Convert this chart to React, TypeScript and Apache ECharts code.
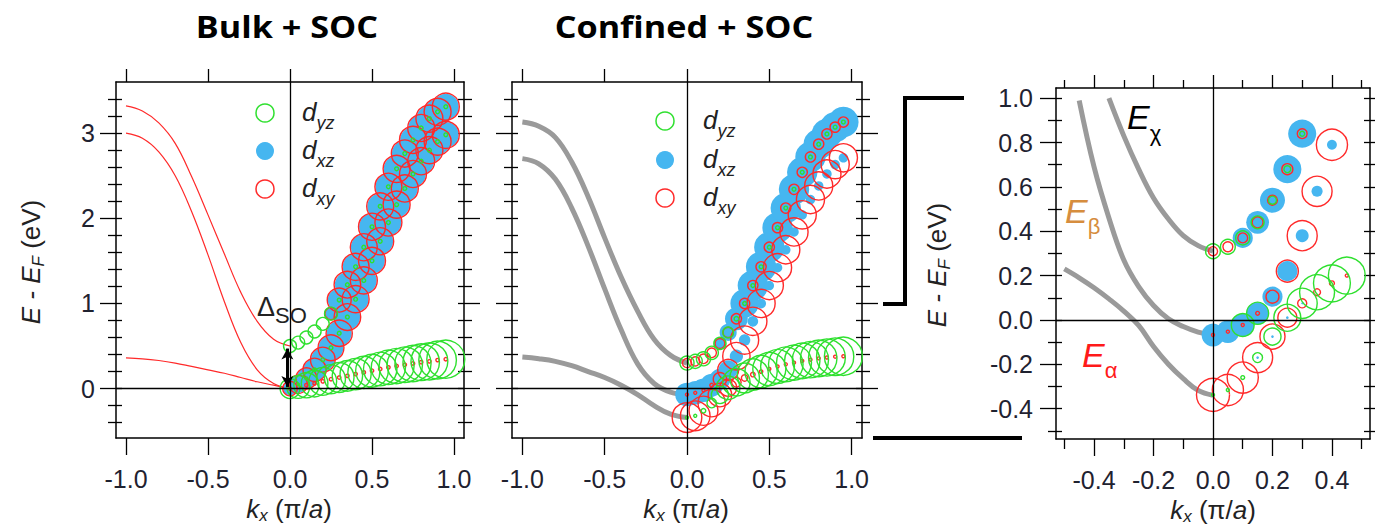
import React, { useEffect, useRef } from "react";
import * as echarts from "echarts";

// ---------------- data ----------------
// k grid for band markers (pi/a)
const kBulk = [0, 0.05, 0.1, 0.15, 0.2, 0.25, 0.3, 0.35, 0.4, 0.45, 0.5, 0.55, 0.6, 0.65, 0.7, 0.75, 0.8, 0.85, 0.9, 0.95];
const kConf = [0, 0.05, 0.1, 0.15, 0.2, 0.25, 0.3, 0.35, 0.4, 0.45, 0.5, 0.55, 0.6, 0.65, 0.7, 0.75, 0.8, 0.85, 0.9, 0.95];
const kZoom = [0, 0.05, 0.1, 0.15, 0.2, 0.25, 0.3, 0.35, 0.4, 0.45];
// k grid for the plain dispersion curves (left halves)
const kLine = [-1.0, -0.9, -0.8, -0.7, -0.6, -0.5, -0.4, -0.3, -0.2, -0.1, 0];

// ---- Bulk + SOC ----
const bulkUpperE = [0.5, 0.54, 0.6, 0.67, 0.76, 0.88, 1.04, 1.22, 1.43, 1.66, 1.9, 2.14, 2.37, 2.58, 2.76, 2.92, 3.06, 3.17, 3.25, 3.31];
const bulkUpperYz = [0.34, 0.34, 0.34, 0.34, 0.34, 0.34, 0.1, 0.1, 0.1, 0.1, 0.1, 0.1, 0.1, 0.1, 0.1, 0.1, 0.1, 0.1, 0.1, 0.1];
const bulkUpperXz = [0, 0, 0, 0, 0, 0.3, 0.6, 0.66, 0.68, 0.68, 0.68, 0.68, 0.68, 0.68, 0.68, 0.68, 0.68, 0.68, 0.68, 0.68];
const bulkUpperXy = [0, 0, 0, 0, 0, 0.32, 0.63, 0.7, 0.71, 0.71, 0.71, 0.71, 0.71, 0.71, 0.71, 0.71, 0.71, 0.71, 0.71, 0.71];

const bulkMidE = [0.0, 0.05, 0.12, 0.22, 0.34, 0.48, 0.65, 0.84, 1.05, 1.27, 1.5, 1.73, 1.95, 2.16, 2.35, 2.52, 2.67, 2.8, 2.9, 2.98];
const bulkMidYz = [0.06, 0.06, 0.08, 0.1, 0.1, 0.1, 0.1, 0.1, 0.1, 0.1, 0.1, 0.1, 0.1, 0.1, 0.1, 0.1, 0.1, 0.1, 0.1, 0.1];
const bulkMidXz = [0.35, 0.45, 0.52, 0.58, 0.62, 0.65, 0.66, 0.67, 0.68, 0.68, 0.68, 0.68, 0.68, 0.68, 0.68, 0.68, 0.68, 0.68, 0.68, 0.68];
const bulkMidXy = [0.38, 0.48, 0.55, 0.61, 0.65, 0.68, 0.69, 0.7, 0.71, 0.71, 0.71, 0.71, 0.71, 0.71, 0.71, 0.71, 0.71, 0.71, 0.71, 0.71];

const bulkLowE = [0.0, 0.02, 0.04, 0.06, 0.085, 0.11, 0.13, 0.15, 0.17, 0.19, 0.21, 0.23, 0.25, 0.265, 0.28, 0.295, 0.31, 0.32, 0.335, 0.345];
const bulkLowYz = [0.52, 0.6, 0.66, 0.7, 0.73, 0.76, 0.78, 0.8, 0.82, 0.84, 0.86, 0.88, 0.9, 0.92, 0.93, 0.95, 0.96, 0.97, 0.99, 1.0];
const bulkLowXy = [0.09, 0.09, 0.09, 0.09, 0.09, 0.09, 0.09, 0.09, 0.09, 0.09, 0.09, 0.09, 0.09, 0.09, 0.09, 0.09, 0.09, 0.09, 0.09, 0.09];

const bulkUpperLine = [3.32, 3.26, 3.12, 2.88, 2.49, 2.04, 1.58, 1.13, 0.79, 0.58, 0.5];
const bulkMidLine = [3.0, 2.94, 2.78, 2.5, 2.08, 1.57, 1.02, 0.54, 0.22, 0.06, 0.0];
const bulkLowLine = [0.36, 0.35, 0.33, 0.3, 0.26, 0.22, 0.18, 0.13, 0.08, 0.04, 0.0];

// ---- Confined + SOC ----
const confChiE = [0.3, 0.32, 0.35, 0.42, 0.53, 0.66, 0.82, 1.0, 1.21, 1.43, 1.66, 1.89, 2.12, 2.34, 2.54, 2.72, 2.87, 2.99, 3.07, 3.13];
const confChiYz = [0.37, 0.37, 0.37, 0.35, 0.32, 0.28, 0.12, 0.1, 0.1, 0.1, 0.1, 0.1, 0.1, 0.1, 0.1, 0.1, 0.1, 0.1, 0.1, 0.1];
const confChiXz = [0, 0, 0, 0, 0.3, 0.45, 0.6, 0.75, 0.8, 0.8, 0.8, 0.8, 0.8, 0.8, 0.8, 0.8, 0.8, 0.8, 0.8, 0.8];
const confChiXy = [0.24, 0.24, 0.25, 0.25, 0.26, 0.27, 0.27, 0.27, 0.27, 0.27, 0.27, 0.27, 0.27, 0.27, 0.27, 0.27, 0.27, 0.27, 0.27, 0.27];

const confBetaE = [-0.07, -0.05, -0.02, 0.04, 0.11, 0.22, 0.38, 0.57, 0.79, 1.0, 1.21, 1.42, 1.63, 1.84, 2.04, 2.22, 2.38, 2.52, 2.63, 2.71];
const confBetaXz = [0.62, 0.62, 0.62, 0.6, 0.55, 0.5, 0.35, 0.3, 0.28, 0.26, 0.25, 0.25, 0.25, 0.25, 0.25, 0.25, 0.25, 0.25, 0.25, 0.25];
const confBetaXy = [0.08, 0.08, 0.08, 0.1, 0.35, 0.55, 0.72, 0.74, 0.74, 0.74, 0.74, 0.74, 0.74, 0.74, 0.74, 0.74, 0.74, 0.74, 0.74, 0.74];

const confAlphaE = [-0.34, -0.32, -0.26, -0.17, -0.075, 0.01, 0.075, 0.125, 0.165, 0.2, 0.23, 0.26, 0.285, 0.305, 0.325, 0.34, 0.355, 0.365, 0.375, 0.38];
const confAlphaXy = [0.78, 0.78, 0.76, 0.72, 0.62, 0.45, 0.25, 0.17, 0.12, 0.09, 0.08, 0.08, 0.08, 0.08, 0.08, 0.08, 0.08, 0.08, 0.08, 0.08];
const confAlphaYz = [0.08, 0.08, 0.12, 0.25, 0.45, 0.62, 0.72, 0.78, 0.82, 0.85, 0.87, 0.89, 0.91, 0.92, 0.93, 0.95, 0.96, 0.97, 0.98, 1.0];

const confChiLine = [3.13, 3.08, 2.95, 2.66, 2.25, 1.77, 1.31, 0.91, 0.58, 0.39, 0.3];
const confBetaLine = [2.7, 2.64, 2.46, 2.12, 1.67, 1.17, 0.69, 0.29, 0.06, -0.04, -0.07];
const confAlphaLine = [0.37, 0.35, 0.32, 0.27, 0.2, 0.13, 0.04, -0.07, -0.2, -0.3, -0.34];

// ---- zoomed panel ----
const zoomChiE = [0.31, 0.33, 0.37, 0.44, 0.54, 0.68, 0.84];
const zoomChiYz = [0.39, 0.39, 0.37, 0.34, 0.21, 0.18, 0.13];
const zoomChiXz = [0, 0, 0.53, 0.6, 0.66, 0.74, 0.74];
const zoomChiXy = [0.24, 0.26, 0.26, 0.29, 0.26, 0.29, 0.26];

const zoomBetaE = [-0.068, -0.053, -0.023, 0.03, 0.105, 0.22, 0.38, 0.58, 0.79];
const zoomBetaXz = [0.6, 0.6, 0.6, 0.58, 0.53, 0.53, 0.34, 0.29, 0.26];
const zoomBetaXy = [0.08, 0.08, 0.08, 0.1, 0.34, 0.58, 0.79, 0.79, 0.82];
const zoomBetaYz = [0, 0, 0.6, 0.58, 0, 0, 0, 0, 0];

const zoomAlphaE = [-0.338, -0.316, -0.26, -0.17, -0.075, 0.01, 0.075, 0.125, 0.165, 0.2];
const zoomAlphaXy = [0.87, 0.82, 0.82, 0.79, 0.66, 0.5, 0.24, 0.18, 0.13, 0.08];
const zoomAlphaYz = [0.08, 0.08, 0.1, 0.26, 0.45, 0.71, 0.79, 0.92, 0.97, 0.97];
const zoomAlphaXz = [0, 0, 0, 0.07, 0.07, 0.07, 0.05, 0, 0, 0];

const zoomChiLineK = [-0.35, -0.3, -0.25, -0.2, -0.15, -0.1, -0.05, 0];
const zoomChiLine = [1.0, 0.83, 0.68, 0.55, 0.455, 0.38, 0.335, 0.31];
const zoomBetaLineK = [-0.45, -0.4, -0.35, -0.3, -0.25, -0.2, -0.15, -0.1, -0.05, 0];
const zoomBetaLine = [0.99, 0.69, 0.46, 0.27, 0.15, 0.065, 0.005, -0.03, -0.055, -0.068];
const zoomAlphaLineK = [-0.5, -0.45, -0.4, -0.35, -0.3, -0.25, -0.2, -0.15, -0.1, -0.05, 0];
const zoomAlphaLine = [0.23, 0.19, 0.145, 0.095, 0.04, -0.025, -0.12, -0.2, -0.265, -0.318, -0.34];

// spin-orbit gap arrow (bulk panel)
const deltaSO = { k: -0.016, from: 0.02, to: 0.47 };

// ticks
const kTicksWide = [-1.0, -0.5, 0, 0.5, 1.0];
const eMajorWide = [0, 1, 2, 3];
const eMinorWide = [-0.4, -0.2, 0.2, 0.4, 0.6, 0.8, 1.2, 1.4, 1.6, 1.8, 2.2, 2.4, 2.6, 2.8, 3.2, 3.4];
const kMajorZoom = [-0.4, -0.2, 0, 0.2, 0.4];
const kMinorZoom = [-0.5, -0.3, -0.1, 0.1, 0.3, 0.5];
const eMajorZoom = [-0.4, -0.2, 0, 0.2, 0.4, 0.6, 0.8, 1.0];
const eMinorZoom = [-0.5, -0.3, -0.1, 0.1, 0.3, 0.5, 0.7, 0.9];

// ---------------- styling ----------------
const FONT = '"Liberation Sans", Arial, sans-serif';
const GREEN = "#2fe02f";
const BLUE = "#46b6f0";
const RED = "#ff2a2a";
const GRAY = "#9a9a9a";
const LABEL = "#1f2230";
const S = 38; // marker diameter for weight 1

const f1 = (v: number) => v.toFixed(1);
const f0 = (v: number) => String(Math.round(v));

function xAxes(grid: number, min: number, max: number, major: number[], minor: number[] | null, fmt: any, margin: number) {
  const line = { color: "#000", width: 1.5 };
  const tl = { color: "#000", width: 1.3 };
  const base: any = {
    type: "value", gridIndex: grid, min, max,
    splitLine: { show: false },
    axisLine: { show: false, onZero: false },
    axisLabel: { show: false },
    axisTick: { show: false },
  };
  const arr: any[] = [
    { ...base, position: "bottom",
      axisLine: { show: true, onZero: false, lineStyle: line },
      axisTick: { show: true, customValues: major, length: 17, lineStyle: tl },
      axisLabel: { show: true, customValues: major, formatter: fmt, margin, fontSize: 25, fontFamily: FONT, color: LABEL } },
    { ...base, position: "top",
      axisLine: { show: true, onZero: false, lineStyle: line },
      axisTick: { show: true, customValues: major, length: 13, lineStyle: tl } },
  ];
  if (minor) {
    arr.push({ ...base, position: "bottom", axisTick: { show: true, customValues: minor, length: 10, lineStyle: tl } });
    arr.push({ ...base, position: "top", axisTick: { show: true, customValues: minor, length: 8, lineStyle: tl } });
  }
  return arr;
}

function yAxes(grid: number, min: number, max: number, major: number[], minor: number[], fmt: any, labels: boolean, margin: number) {
  const line = { color: "#000", width: 1.5 };
  const tl = { color: "#000", width: 1.3 };
  const all = [...major, ...minor];
  const base: any = {
    type: "value", gridIndex: grid, min, max,
    splitLine: { show: false },
    axisLine: { show: false, onZero: false },
    axisLabel: { show: false },
    axisTick: { show: false },
  };
  return [
    { ...base, position: "left",
      axisLine: { show: true, onZero: false, lineStyle: line },
      axisTick: { show: true, customValues: major, length: 16, lineStyle: tl },
      axisLabel: { show: labels, customValues: major, formatter: fmt, margin, fontSize: 25, fontFamily: FONT, color: LABEL } },
    { ...base, position: "left", axisTick: { show: true, customValues: minor, length: 8, lineStyle: tl } },
    { ...base, position: "left", axisTick: { show: true, inside: true, customValues: all, length: 6, lineStyle: tl } },
    { ...base, position: "right",
      axisLine: { show: true, onZero: false, lineStyle: line },
      axisTick: { show: true, customValues: major, length: 16, lineStyle: tl } },
    { ...base, position: "right", axisTick: { show: true, customValues: minor, length: 8, lineStyle: tl } },
    { ...base, position: "right", axisTick: { show: true, inside: true, customValues: all, length: 6, lineStyle: tl } },
  ];
}

function dots(k: number[], E: number[], w: number[], color: string, filled: boolean, xi: number, yi: number, z: number) {
  const data: number[][] = [];
  for (let i = 0; i < E.length; i++) if (w[i] > 0.005) data.push([k[i], E[i], w[i]]);
  return {
    type: "scatter", xAxisIndex: xi, yAxisIndex: yi, data, symbol: "circle",
    symbolSize: (v: number[]) => v[2] * S, z, silent: true,
    itemStyle: filled
      ? { color, opacity: 1 }
      : { color: "rgba(0,0,0,0)", borderColor: color, borderWidth: 1.4, opacity: 1 },
  };
}

function curve(k: number[], E: number[], color: string, width: number, xi: number, yi: number, extra: any = {}) {
  return {
    type: "line", xAxisIndex: xi, yAxisIndex: yi, data: k.map((x, i) => [x, E[i]]),
    smooth: 0.4, showSymbol: false, symbol: "none", lineStyle: { color, width }, z: 1, silent: true, ...extra,
  };
}

const zeroLines = {
  silent: true, symbol: ["none", "none"], label: { show: false },
  lineStyle: { color: "#000", width: 1.3, type: "solid" },
  data: [{ xAxis: 0 }, { yAxis: 0 }],
};

// text helpers
let mctx: any = null;
type Piece = { t: string; size: number; italic?: boolean; bold?: boolean; family?: string; dy?: number; color?: string };
function fontStr(p: Piece) {
  return `${p.italic ? "italic " : ""}${p.bold ? "bold " : ""}${p.size}px ${p.family || FONT}`;
}
function tw(p: Piece) {
  if (!mctx) mctx = document.createElement("canvas").getContext("2d");
  mctx.font = fontStr(p);
  return mctx.measureText(p.t).width;
}
function textGroup(x: number, y: number, pieces: Piece[], align: string, color: string, rotation = 0, scaleX = 1) {
  const widths = pieces.map(tw);
  const total = widths.reduce((a, b) => a + b, 0);
  let cx = align === "center" ? -total / 2 : 0;
  const children = pieces.map((p, i) => {
    const el = {
      type: "text", x: cx, y: p.dy || 0, z: 100,
      style: {
        text: p.t, font: fontStr(p), fill: p.color || color,
        align: "left", verticalAlign: "middle", textAlign: "left", textVerticalAlign: "middle",
      },
    };
    cx += widths[i];
    return el;
  });
  return { type: "group", x, y, rotation, scaleX, z: 100, children };
}

function buildGraphic() {
  const g: any[] = [];
  const title = (x: number, t: string) =>
    textGroup(x, 26, [{ t, size: 30, bold: true, family: '"Open Sans", sans-serif' }], "center", "#000", 0, 1.14);
  g.push(title(287, "Bulk + SOC"));
  g.push(title(684, "Confined + SOC"));
  const eLabel: Piece[] = [
    { t: "E - E", size: 26, italic: true },
    { t: "F", size: 17, italic: true, dy: 7 },
    { t: " (eV)", size: 26 },
  ];
  g.push(textGroup(31, 262, eLabel, "center", "#222", Math.PI / 2));
  g.push(textGroup(937, 265, eLabel, "center", "#222", Math.PI / 2));
  const kLabel: Piece[] = [
    { t: "k", size: 26, italic: true },
    { t: "x", size: 17, italic: true, dy: 6 },
    { t: " (π/", size: 26 },
    { t: "a", size: 26, italic: true },
    { t: ")", size: 26 },
  ];
  g.push(textGroup(289, 509, kLabel, "center", "#222"));
  g.push(textGroup(686, 509, kLabel, "center", "#222"));
  g.push(textGroup(1213, 510, kLabel, "center", "#222"));

  // legends
  const legend = (sx: number, ys: number[], tx: number) => {
    g.push({ type: "circle", z: 100, shape: { cx: sx, cy: ys[0], r: 9 }, style: { fill: "none", stroke: GREEN, lineWidth: 1.5 } });
    g.push({ type: "circle", z: 100, shape: { cx: sx, cy: ys[1], r: 9 }, style: { fill: BLUE } });
    g.push({ type: "circle", z: 100, shape: { cx: sx, cy: ys[2], r: 9 }, style: { fill: "none", stroke: RED, lineWidth: 1.5 } });
    ["yz", "xz", "xy"].forEach((s, i) => {
      g.push(textGroup(tx, ys[i] - 1, [
        { t: "d", size: 26, italic: true },
        { t: s, size: 18, italic: true, dy: 11 },
      ], "left", "#222"));
    });
  };
  legend(265, [113, 151, 189], 302);
  legend(665, [121, 160, 198], 703);

  // Delta_SO
  g.push(textGroup(257, 307, [{ t: "Δ", size: 27 }, { t: "SO", size: 22, dy: 8 }], "left", "#222"));

  // band labels in zoomed panel
  g.push(textGroup(1127, 117, [{ t: "E", size: 34, italic: true }, { t: "χ", size: 22, dy: 16 }], "left", "#000"));
  g.push(textGroup(1065, 211, [{ t: "E", size: 34, italic: true }, { t: "β", size: 22, dy: 15 }], "left", "#d68d3e"));
  g.push(textGroup(1082, 355, [{ t: "E", size: 34, italic: true }, { t: "α", size: 22, dy: 15 }], "left", "#ff1a1a"));

  // zoom bracket
  g.push({ type: "polyline", z: 100, shape: { points: [[964, 98], [905, 98], [905, 304], [883, 304]] }, style: { stroke: "#000", lineWidth: 4, fill: "none", lineJoin: "miter" } });
  g.push({ type: "line", z: 100, shape: { x1: 873, y1: 438, x2: 1022, y2: 438 }, style: { stroke: "#000", lineWidth: 4 } });
  return g;
}

export default function App() {
  const ref = useRef<HTMLDivElement>(null);
  useEffect(() => {
    document.body.style.margin = "0";
    const chart = echarts.init(ref.current!, undefined, { renderer: "svg" });
    const xA = [
      ...xAxes(0, -1.061, 1.061, kTicksWide, null, f1, 28),
      ...xAxes(1, -1.063, 1.063, kTicksWide, null, f1, 28),
      ...xAxes(2, -0.528, 0.528, kMajorZoom, kMinorZoom, f1, 28),
    ];
    const yA = [
      ...yAxes(0, -0.58, 3.6, eMajorWide, eMinorWide, f0, true, 21),
      ...yAxes(1, -0.58, 3.6, eMajorWide, eMinorWide, f0, false, 21),
      ...yAxes(2, -0.537, 1.046, eMajorZoom, eMinorZoom, f1, true, 23),
    ];
    const X = [0, 2, 4];
    const Y = [0, 6, 12];
    const series: any[] = [
      // bulk
      curve(kLine, bulkUpperLine, RED, 1.2, X[0], Y[0], {
        markLine: {
          silent: true, symbol: ["arrow", "arrow"], symbolSize: [9, 11], label: { show: false },
          lineStyle: { color: "#000", width: 3, type: "solid" },
          data: [[{ coord: [deltaSO.k, deltaSO.from] }, { coord: [deltaSO.k, deltaSO.to] }]],
        },
      }),
      curve(kLine, bulkMidLine, RED, 1.2, X[0], Y[0], { markLine: zeroLines }),
      curve(kLine, bulkLowLine, RED, 1.2, X[0], Y[0]),
      dots(kBulk, bulkUpperE, bulkUpperXz, BLUE, true, X[0], Y[0], 2),
      dots(kBulk, bulkMidE, bulkMidXz, BLUE, true, X[0], Y[0], 2),
      dots(kBulk, bulkUpperE, bulkUpperXy, RED, false, X[0], Y[0], 3),
      dots(kBulk, bulkMidE, bulkMidXy, RED, false, X[0], Y[0], 3),
      dots(kBulk, bulkLowE, bulkLowXy, RED, false, X[0], Y[0], 3),
      dots(kBulk, bulkUpperE, bulkUpperYz, GREEN, false, X[0], Y[0], 4),
      dots(kBulk, bulkMidE, bulkMidYz, GREEN, false, X[0], Y[0], 4),
      dots(kBulk, bulkLowE, bulkLowYz, GREEN, false, X[0], Y[0], 4),
      // confined
      curve(kLine, confChiLine, GRAY, 5, X[1], Y[1], { markLine: zeroLines }),
      curve(kLine, confBetaLine, GRAY, 5, X[1], Y[1]),
      curve(kLine, confAlphaLine, GRAY, 5, X[1], Y[1]),
      dots(kConf, confChiE, confChiXz, BLUE, true, X[1], Y[1], 2),
      dots(kConf, confBetaE, confBetaXz, BLUE, true, X[1], Y[1], 2),
      dots(kConf, confChiE, confChiXy, RED, false, X[1], Y[1], 3),
      dots(kConf, confBetaE, confBetaXy, RED, false, X[1], Y[1], 3),
      dots(kConf, confAlphaE, confAlphaXy, RED, false, X[1], Y[1], 3),
      dots(kConf, confChiE, confChiYz, GREEN, false, X[1], Y[1], 4),
      dots(kConf, confAlphaE, confAlphaYz, GREEN, false, X[1], Y[1], 4),
      // zoom
      curve(zoomChiLineK, zoomChiLine, GRAY, 5, X[2], Y[2], { markLine: zeroLines }),
      curve(zoomBetaLineK, zoomBetaLine, GRAY, 5, X[2], Y[2]),
      curve(zoomAlphaLineK, zoomAlphaLine, GRAY, 5, X[2], Y[2]),
      dots(kZoom, zoomChiE, zoomChiXz, BLUE, true, X[2], Y[2], 2),
      dots(kZoom, zoomBetaE, zoomBetaXz, BLUE, true, X[2], Y[2], 2),
      dots(kZoom, zoomAlphaE, zoomAlphaXz, BLUE, true, X[2], Y[2], 2),
      dots(kZoom, zoomChiE, zoomChiXy, RED, false, X[2], Y[2], 3),
      dots(kZoom, zoomBetaE, zoomBetaXy, RED, false, X[2], Y[2], 3),
      dots(kZoom, zoomAlphaE, zoomAlphaXy, RED, false, X[2], Y[2], 3),
      dots(kZoom, zoomChiE, zoomChiYz, GREEN, false, X[2], Y[2], 4),
      dots(kZoom, zoomBetaE, zoomBetaYz, GREEN, false, X[2], Y[2], 4),
      dots(kZoom, zoomAlphaE, zoomAlphaYz, GREEN, false, X[2], Y[2], 4),
    ];
    chart.setOption({
      animation: false,
      backgroundColor: "#ffffff",
      grid: [
        { left: 116, top: 82, width: 348, height: 356, outerBoundsMode: "none", containLabel: false },
        { left: 512, top: 82, width: 350, height: 356, outerBoundsMode: "none", containLabel: false },
        { left: 1056, top: 88, width: 314, height: 351, outerBoundsMode: "none", containLabel: false },
      ],
      xAxis: xA,
      yAxis: yA,
      series,
      graphic: buildGraphic(),
    });
    return () => chart.dispose();
  }, []);
  return <div ref={ref} style={{ width: 1375, height: 526 }} />;
}
